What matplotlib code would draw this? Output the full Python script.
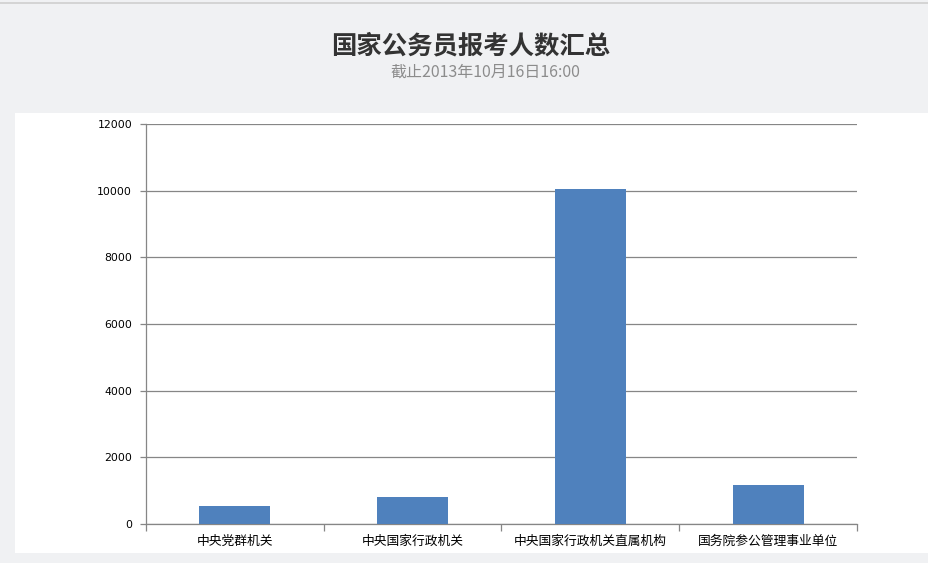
import matplotlib
matplotlib.use("Agg")
import matplotlib.pyplot as plt
from matplotlib.patches import Rectangle

plt.rcParams['font.family'] = ['Noto Sans CJK SC', 'DejaVu Sans']

# data
categories = ['中央党群机关', '中央国家行政机关', '中央国家行政机关直属机构', '国务院参公管理事业单位']
applicants = [540, 810, 10050, 1170]
y_ticks = [0, 2000, 4000, 6000, 8000, 10000, 12000]

title = '国家公务员报考人数汇总'
subtitle = '截止2013年10月16日16:00'

W, H = 929, 563
fig = plt.figure(figsize=(W / 100, H / 100), dpi=100)
fig.patch.set_facecolor('#f0f1f3')

# white panel behind the plot + thin top border
fig.add_artist(Rectangle((15 / W, 1 - 553 / H), (W - 15) / W, 440 / H,
                         transform=fig.transFigure, facecolor='white',
                         edgecolor='none', zorder=0))
fig.add_artist(Rectangle((0, 1 - 4 / H), 1, 2 / H, transform=fig.transFigure,
                         facecolor='#d4d4d4', edgecolor='none', zorder=0))

ax = fig.add_axes([146 / W, 1 - 524 / H, (857 - 146) / W, 400 / H])
ax.set_facecolor('white')

x = list(range(len(categories)))
ax.bar(x, applicants, width=0.4, color='#4f81bd', zorder=3)

ax.set_xlim(-0.5, len(categories) - 0.5)
ax.set_ylim(0, 12000)
ax.set_yticks(y_ticks)
ax.set_yticklabels([str(v) for v in y_ticks], family='DejaVu Sans', fontsize=7.8)
ax.yaxis.grid(True, color='#868686', linewidth=0.9, zorder=1)

ax.set_xticks([i - 0.5 for i in range(len(categories) + 1)])
ax.set_xticklabels([])
ax.set_xticks(x, minor=True)
ax.set_xticklabels(categories, minor=True, fontsize=9.2)
ax.tick_params(axis='x', which='minor', length=0, pad=8)
ax.tick_params(axis='x', which='major', length=5, color='#868686', width=0.9)
ax.tick_params(axis='y', length=4, color='#868686', width=0.9, pad=6)

for s in ['top', 'right']:
    ax.spines[s].set_visible(False)
for s in ['left', 'bottom']:
    ax.spines[s].set_color('#868686')
    ax.spines[s].set_linewidth(0.9)

fig.text(471 / W, 1 - 46 / H, title, ha='center', va='center',
         fontsize=18.3, fontweight='bold', color='#333333')
fig.text(485 / W, 1 - 72 / H, subtitle, ha='center', va='center',
         fontsize=11.5, color='#8c8c8c')

fig.savefig('out.png', dpi=100, facecolor=fig.get_facecolor())
